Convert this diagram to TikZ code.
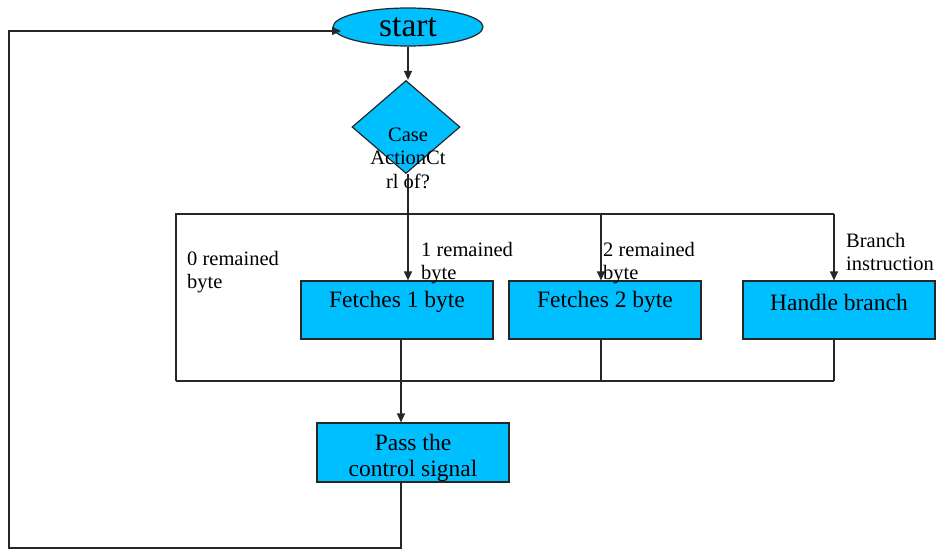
\documentclass[tikz,border=0pt]{standalone}
\usepackage{fontspec}
\setmainfont{Liberation Serif}
\usetikzlibrary{shapes.geometric,arrows.meta}
\definecolor{boxblue}{RGB}{0,191,255}
\tikzset{
  flow/.style={line width=1.2pt, draw=black!85},
  arr/.style={flow, -{Triangle[length=9pt,width=8pt]}},
  stepbox/.style={draw=black!85, line width=1.2pt, fill=boxblue, rectangle, inner sep=0pt},
  boxtext/.style={font=\fontsize{23.5}{26}\selectfont, align=center, inner sep=0pt},
  lbl/.style={font=\fontsize{20.5}{23}\selectfont, align=left, inner sep=0pt, anchor=north west},
}
\begin{document}
\begin{tikzpicture}[x=1pt,y=-1pt]
\useasboundingbox (0,0) rectangle (938,549);

% start terminal and decision
\node[ellipse, draw=black!85, line width=1.2pt, fill=boxblue, minimum width=150, minimum height=38, inner sep=0pt,
      font=\fontsize{33.5}{36}\selectfont] (start) at (408,27) {start};
\node[diamond, draw=black!85, line width=1.2pt, fill=boxblue, minimum width=108, minimum height=93, inner sep=0pt] (dia) at (406,127) {};
\node[font=\fontsize{20.5}{23.5}\selectfont, align=center, inner sep=0pt] (diatext) at (408,158) {Case\\ActionCt\\rl of?};

% processing boxes
\node[stepbox, minimum width=192, minimum height=58] (f1) at (397,310) {};
\node[stepbox, minimum width=192, minimum height=58] (f2) at (605,310) {};
\node[stepbox, minimum width=192, minimum height=58] (hb) at (839,310) {};
\node[stepbox, minimum width=192, minimum height=59] (pass) at (413,452.5) {};
\node[boxtext] (f1t) at (397,302) {Fetches 1 byte};
\node[boxtext] (f2t) at (605,302) {Fetches 2 byte};
\node[boxtext] (hbt) at (839,302) {Handle branch};
\node[boxtext] (passt) at (413,458) {Pass the\\control signal};

% frame of the case branches
\coordinate (ftl) at (176,214);
\coordinate (ftr) at (834,214);
\coordinate (fbl) at (176,381);
\coordinate (fbr) at (834,381);
\coordinate (f2top) at (601,214);
\coordinate (f1bot) at (401,381);
\coordinate (f2bot) at (601,381);

\draw[flow] (fbl) -- (ftl) -- (ftr);
\draw[flow] (fbl) -- (fbr);
\draw[flow] (hb.south -| fbr) -- (fbr);
\draw[flow] (f2.south -| f2bot) -- (f2bot);
\draw[flow] (f1.south -| f1bot) -- (f1bot);

% arrows
\draw[arr] (start.south) -- (start.south |- dia.north);
\draw[arr] (dia.south -| 408,0) -- (408,0 |- f1.north);
\draw[arr] (f2top) -- (f2top |- f2.north);
\draw[arr] (ftr) -- (ftr |- hb.north);
\draw[arr] (f1bot) -- (f1bot |- pass.north);

% loop back to start
\coordinate (lb) at (401,548);
\coordinate (ll) at (9,548);
\coordinate (lt) at (9,31);
\coordinate (lend) at (341,31);
\draw[arr] (pass.south -| lb) -- (lb) -- (ll) -- (lt) -- (lend);

% branch labels
\node[lbl] (l0) at (187,251) {0 remained\\byte};
\node[lbl] (l1) at (421,242) {1 remained\\byte};
\node[lbl] (l2) at (603,242) {2 remained\\byte};
\node[lbl] (l3) at (846,233) {Branch\\instruction};
\end{tikzpicture}
\end{document}
